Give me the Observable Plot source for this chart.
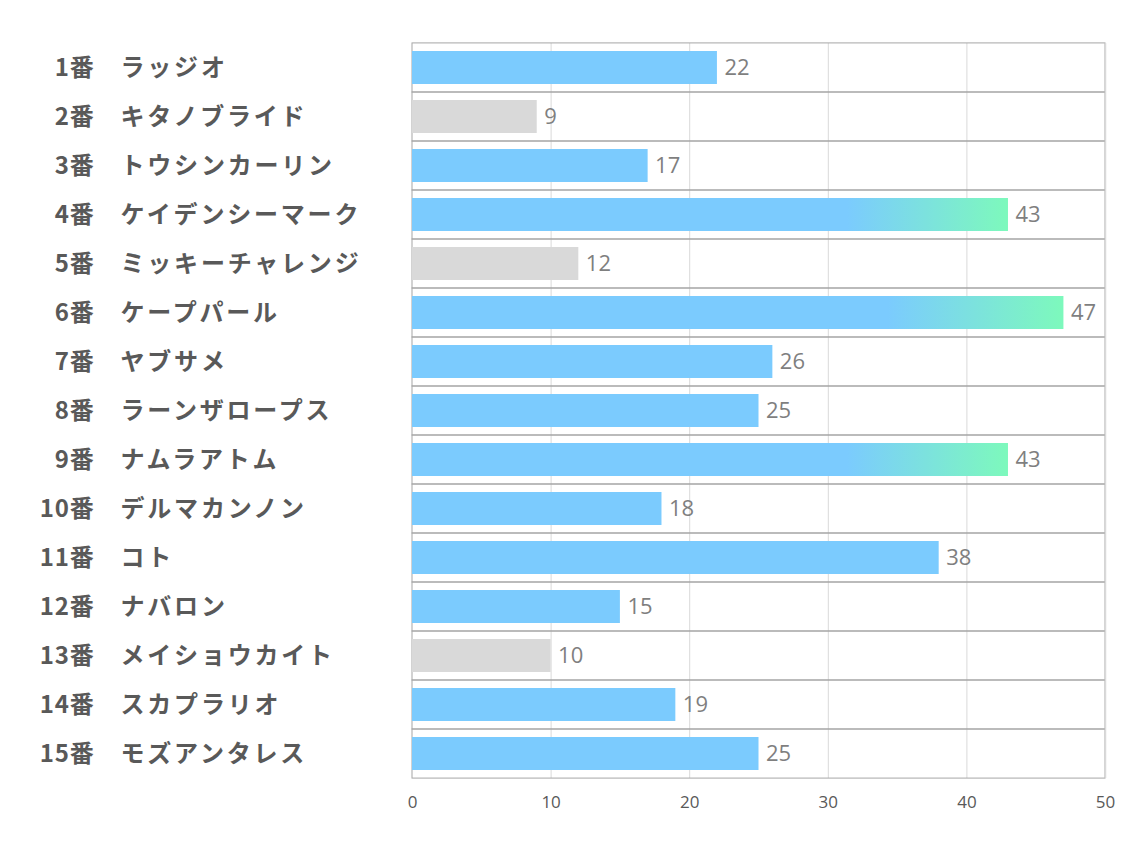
<!DOCTYPE html>
<html>
<head>
<meta charset="utf-8">
<script src="https://cdn.jsdelivr.net/npm/d3@7"></script>
<script src="https://cdn.jsdelivr.net/npm/@observablehq/plot@0.6"></script>
<style>
  html, body { margin: 0; padding: 0; background: #fff; }
  #chart { width: 1134px; height: 850px; }
  .horse-names text { letter-spacing: 2.8px; }
  .horse-nums text { letter-spacing: 0.8px; }
</style>
</head>
<body>
<div id="chart"></div>
<script>
const numbers = ["1番","2番","3番","4番","5番","6番","7番","8番","9番","10番","11番","12番","13番","14番","15番"];
const names = ["ラッジオ","キタノブライド","トウシンカーリン","ケイデンシーマーク","ミッキーチャレンジ","ケープパール","ヤブサメ","ラーンザロープス","ナムラアトム","デルマカンノン","コト","ナバロン","メイショウカイト","スカプラリオ","モズアンタレス"];
const values = [22, 9, 17, 43, 12, 47, 26, 25, 43, 18, 38, 15, 10, 19, 25];
const kinds = ["blue","gray","blue","grad","gray","grad","blue","blue","grad","blue","blue","blue","gray","blue","blue"];
const xTicks = [0, 10, 20, 30, 40, 50];

const fills = {blue: "#7BCBFE", gray: "#D9D9D9", grad: "url(#barGrad)"};

const data = numbers.map((n, i) => ({num: n, name: names[i], value: values[i], kind: kinds[i]}));
const keys = numbers;

const defsMark = () => {
  const g = d3.create("svg:defs");
  const lg = g.append("linearGradient").attr("id", "barGrad")
    .attr("x1", "0").attr("x2", "1").attr("y1", "0").attr("y2", "0");
  lg.append("stop").attr("offset", "0").attr("stop-color", "#7BCBFE");
  lg.append("stop").attr("offset", "0.73").attr("stop-color", "#7BCBFE");
  lg.append("stop").attr("offset", "1").attr("stop-color", "#7DF9BC");
  return g.node();
};

const step = (778 - 43) / 15;
const pi = 0.33;
const bw = step * (1 - pi);
const inset = -(step - bw) / 2;

const chart = Plot.plot({
  width: 1134,
  height: 850,
  marginLeft: 412,
  marginRight: 29,
  marginTop: 43,
  marginBottom: 72,
  style: {background: "#fff", overflow: "visible"},
  x: {domain: [0, 50], ticks: xTicks, label: null},
  y: {domain: keys, paddingInner: pi, paddingOuter: pi / 2, axis: null},
  color: {type: "identity"},
  marks: [
    defsMark,
    Plot.ruleX(xTicks.slice(1), {stroke: "#d9d9d9", strokeWidth: 1}),
    Plot.barX(data, {x1: 0, x2: 50, y: "num", insetTop: inset, insetBottom: inset, fill: "none", stroke: "#a6a6a6", strokeWidth: 1}),
    Plot.ruleX([50], {stroke: "#d9d9d9", strokeWidth: 1.5}),
    Plot.barX(data, {x: "value", y: "num", fill: d => fills[d.kind]}),
    Plot.text(data, {x: "value", y: "num", text: d => String(d.value), textAnchor: "start", dx: 7, fill: "#7f7f7f", fontSize: 22, fontFamily: "Open Sans, sans-serif"}),
    Plot.text(data, {y: "num", frameAnchor: "left", text: "num", textAnchor: "end", dx: -(412 - 94), fill: "#595959", fontSize: 24, fontWeight: "bold", fontFamily: "Noto Sans CJK JP, sans-serif", className: "horse-nums"}),
    Plot.text(data, {y: "num", frameAnchor: "left", text: "name", textAnchor: "start", dx: -(412 - 120), fill: "#595959", fontSize: 24, fontWeight: "bold", fontFamily: "Noto Sans CJK JP, sans-serif", className: "horse-names"}),
    Plot.axisX(xTicks, {tickSize: 0, tickPadding: 17, fill: "#595959", fontSize: 17, fontFamily: "Liberation Sans Narrow, Open Sans, sans-serif", label: null})
  ]
});
document.getElementById("chart").appendChild(chart);
</script>
</body>
</html>
